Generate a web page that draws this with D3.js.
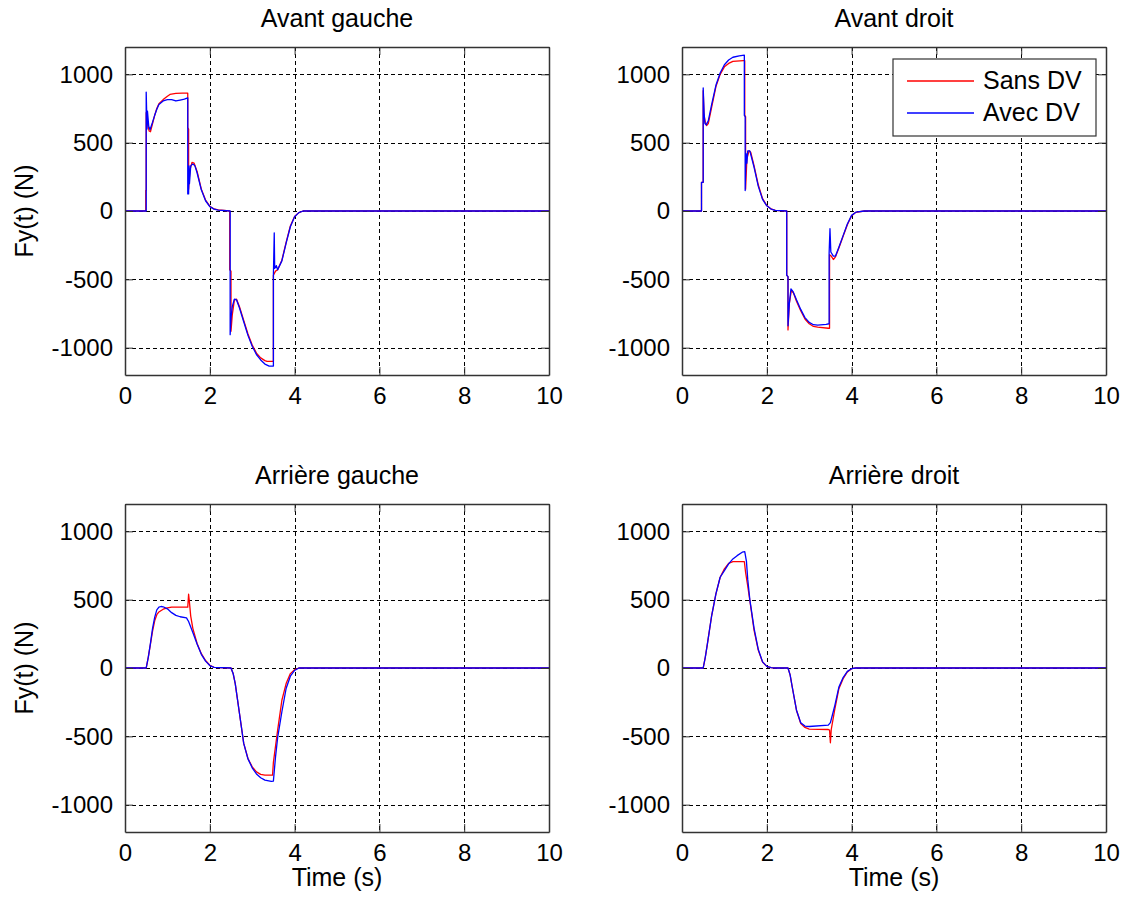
<!DOCTYPE html>
<html>
<head>
<meta charset="utf-8">
<script src="https://cdn.jsdelivr.net/npm/d3@7"></script>
<style>
  html, body { margin: 0; padding: 0; background: #fff; }
  svg { display: block; }
  text { font-family: Arial, "Liberation Sans", sans-serif; fill: #000; }
</style>
</head>
<body>
<svg id="chart" width="1126" height="903"></svg>
<script>
// ---------- Data ----------
const xTicks = [0, 2, 4, 6, 8, 10];
const yTicks = [-1000, -500, 0, 500, 1000];
const seriesNames = ["Sans DV", "Avec DV"];
const panelTitles = ["Avant gauche", "Avant droit", "Arrière gauche", "Arrière droit"];

// Avant gauche
const avgSans = [[0,0],[0.49,0],[0.49,150],[0.5,150],[0.5,720],[0.53,640],[0.57,585],[0.6,580],[0.65,640],[0.7,700],[0.75,750],[0.8,785],[0.9,815],[1.0,840],[1.06,853],[1.2,860],[1.35,862],[1.48,862],[1.48,610],[1.5,600],[1.5,160],[1.53,300],[1.58,355],[1.63,350],[1.7,290],[1.8,160],[1.9,80],[2.0,35],[2.1,15],[2.2,8],[2.47,0],[2.47,-430],[2.5,-440],[2.5,-880],[2.53,-760],[2.58,-650],[2.63,-645],[2.7,-700],[2.8,-800],[2.9,-900],[3.0,-980],[3.1,-1040],[3.2,-1075],[3.3,-1095],[3.35,-1100],[3.5,-1100],[3.5,-470],[3.55,-440],[3.6,-430],[3.7,-360],[3.8,-230],[3.9,-110],[4.0,-40],[4.1,-12],[4.2,0],[10,0]];
const avgAvec = [[0,0],[0.5,0],[0.5,870],[0.52,600],[0.53,730],[0.56,620],[0.59,595],[0.65,650],[0.7,700],[0.75,745],[0.8,780],[0.9,805],[1.0,815],[1.1,815],[1.2,805],[1.3,812],[1.4,818],[1.48,828],[1.48,125],[1.5,125],[1.51,330],[1.52,200],[1.55,330],[1.6,345],[1.65,330],[1.7,280],[1.8,155],[1.9,75],[2.0,32],[2.1,14],[2.2,6],[2.48,0],[2.48,-905],[2.5,-780],[2.53,-700],[2.58,-645],[2.63,-650],[2.7,-710],[2.8,-810],[2.9,-910],[3.0,-990],[3.1,-1050],[3.2,-1090],[3.3,-1120],[3.4,-1135],[3.5,-1135],[3.5,-470],[3.52,-160],[3.53,-420],[3.57,-400],[3.6,-430],[3.7,-365],[3.8,-235],[3.9,-115],[4.0,-42],[4.1,-12],[4.2,0],[10,0]];

// Avant droit
const avdSans = [[0,0],[0.46,0],[0.46,210],[0.5,210],[0.5,880],[0.52,700],[0.55,650],[0.58,625],[0.62,640],[0.7,760],[0.8,910],[0.9,1000],[1.0,1055],[1.1,1080],[1.2,1095],[1.45,1100],[1.48,1100],[1.48,700],[1.5,690],[1.5,160],[1.53,380],[1.58,440],[1.62,430],[1.7,330],[1.8,190],[1.9,90],[2.0,40],[2.1,15],[2.2,5],[2.47,0],[2.47,-470],[2.5,-480],[2.5,-870],[2.53,-680],[2.58,-580],[2.63,-600],[2.7,-660],[2.8,-730],[2.9,-790],[3.0,-825],[3.1,-845],[3.2,-850],[3.45,-858],[3.48,-858],[3.48,-320],[3.52,-330],[3.57,-355],[3.62,-335],[3.7,-270],[3.8,-185],[3.9,-100],[4.0,-35],[4.1,-10],[4.3,0],[10,0]];
const avdAvec = [[0,0],[0.46,0],[0.46,210],[0.5,210],[0.5,900],[0.52,720],[0.54,640],[0.57,630],[0.62,660],[0.7,780],[0.8,920],[0.9,1010],[1.0,1070],[1.1,1105],[1.2,1125],[1.35,1135],[1.47,1140],[1.47,700],[1.49,690],[1.49,150],[1.51,420],[1.53,350],[1.55,440],[1.6,440],[1.7,320],[1.8,180],[1.9,85],[2.0,38],[2.1,14],[2.2,5],[2.47,0],[2.47,-470],[2.5,-480],[2.5,-840],[2.53,-680],[2.57,-570],[2.62,-590],[2.7,-650],[2.8,-720],[2.9,-780],[3.0,-815],[3.1,-832],[3.2,-835],[3.4,-830],[3.47,-825],[3.47,-310],[3.49,-130],[3.51,-300],[3.57,-330],[3.62,-330],[3.7,-265],[3.8,-180],[3.9,-95],[4.0,-32],[4.1,-9],[4.3,0],[10,0]];

// Arrière gauche
const argSans = [[0,0],[0.5,0],[0.55,80],[0.6,175],[0.65,270],[0.7,345],[0.75,390],[0.8,410],[0.9,430],[1.0,440],[1.1,445],[1.48,445],[1.5,540],[1.52,480],[1.55,380],[1.6,290],[1.7,180],[1.8,105],[1.9,55],[2.0,20],[2.1,5],[2.5,0],[2.55,-40],[2.6,-114],[2.7,-333],[2.8,-552],[2.9,-662],[3.0,-723],[3.1,-760],[3.2,-778],[3.3,-784],[3.48,-784],[3.5,-690],[3.6,-455],[3.7,-236],[3.8,-114],[3.9,-41],[4.0,-12],[4.1,0],[10,0]];
const argAvec = [[0,0],[0.5,0],[0.55,80],[0.6,180],[0.65,290],[0.7,370],[0.75,425],[0.8,445],[0.85,450],[0.9,448],[1.0,433],[1.1,405],[1.2,385],[1.3,375],[1.45,367],[1.5,340],[1.55,300],[1.6,260],[1.7,175],[1.8,100],[1.9,50],[2.0,18],[2.1,5],[2.5,0],[2.55,-40],[2.6,-114],[2.7,-333],[2.8,-552],[2.9,-665],[3.0,-730],[3.1,-775],[3.2,-803],[3.3,-820],[3.45,-830],[3.5,-827],[3.55,-650],[3.6,-510],[3.7,-320],[3.8,-150],[3.9,-60],[4.0,-18],[4.1,0],[10,0]];

// Arrière droit
const ardSans = [[0,0],[0.5,0],[0.55,80],[0.6,178],[0.7,384],[0.8,543],[0.9,664],[1.0,725],[1.1,766],[1.2,779],[1.47,779],[1.5,700],[1.55,600],[1.6,494],[1.7,275],[1.8,129],[1.9,44],[2.0,12],[2.1,3],[2.2,0],[2.5,0],[2.55,-50],[2.6,-139],[2.7,-309],[2.8,-406],[2.9,-435],[3.0,-447],[3.45,-450],[3.48,-455],[3.5,-547],[3.52,-450],[3.6,-309],[3.7,-151],[3.8,-78],[3.9,-29],[4.0,-5],[4.1,0],[10,0]];
const ardAvec = [[0,0],[0.5,0],[0.55,80],[0.6,178],[0.7,384],[0.8,543],[0.9,664],[1.0,713],[1.1,762],[1.2,798],[1.3,822],[1.42,847],[1.48,852],[1.52,780],[1.55,650],[1.6,500],[1.7,290],[1.8,135],[1.9,45],[2.0,12],[2.1,3],[2.2,0],[2.5,0],[2.55,-50],[2.6,-139],[2.7,-309],[2.8,-400],[2.9,-425],[3.0,-428],[3.45,-418],[3.5,-400],[3.55,-340],[3.6,-280],[3.7,-140],[3.8,-70],[3.9,-25],[4.0,-5],[4.1,0],[10,0]];

// ---------- Layout ----------
const colors = ["#ff0000", "#0000ff"];
const panels = [
  { title: panelTitles[0], x: 125, y: 47,  data: [avgSans, avgAvec], ylab: true,  xlab: false, legend: false },
  { title: panelTitles[1], x: 682, y: 47,  data: [avdSans, avdAvec], ylab: false, xlab: false, legend: true },
  { title: panelTitles[2], x: 125, y: 504, data: [argSans, argAvec], ylab: true,  xlab: true,  legend: false },
  { title: panelTitles[3], x: 682, y: 504, data: [ardSans, ardAvec], ylab: false, xlab: true,  legend: false }
];
const W = 424, H = 328;
const FS = 24;   // tick labels
const LFS = 25;  // titles / axis labels / legend

const svg = d3.select("#chart");
svg.append("rect").attr("width", 1126).attr("height", 903).attr("fill", "#fff");

panels.forEach(p => {
  const g = svg.append("g").attr("transform", `translate(${p.x},${p.y})`);
  const x = d3.scaleLinear().domain([0, 10]).range([0, W]);
  const y = d3.scaleLinear().domain([-1200, 1200]).range([H, 0]);

  // grid
  const grid = g.append("g").attr("class", "grid");
  grid.selectAll("line.gx").data(xTicks.filter(t => t > 0 && t < 10)).enter().append("line")
    .attr("x1", d => Math.round(x(d)) + 0.5).attr("x2", d => Math.round(x(d)) + 0.5).attr("y1", 0).attr("y2", H)
    .attr("stroke", "#000").attr("stroke-width", 1).attr("stroke-dasharray", "4,3").attr("shape-rendering", "crispEdges");
  grid.selectAll("line.gy").data(yTicks).enter().append("line")
    .attr("y1", d => Math.round(y(d)) + 0.5).attr("y2", d => Math.round(y(d)) + 0.5).attr("x1", 0).attr("x2", W)
    .attr("stroke", "#000").attr("stroke-width", 1).attr("stroke-dasharray", "4,3").attr("shape-rendering", "crispEdges");

  // lines
  const line = d3.line().x(d => x(d[0])).y(d => y(d[1]));
  const clip = "clip" + p.x + "_" + p.y;
  g.append("clipPath").attr("id", clip).append("rect").attr("width", W).attr("height", H);
  p.data.forEach((s, i) => {
    g.append("path").datum(s).attr("d", line).attr("fill", "none")
      .attr("stroke", colors[i]).attr("stroke-width", 1.3).attr("stroke-linejoin", "round")
      .attr("clip-path", `url(#${clip})`);
  });

  // axes (ticks inward)
  const fmt = d => String(d);
  const axB = d3.axisBottom(x).tickValues(xTicks).tickFormat(fmt).tickSizeInner(-8).tickSizeOuter(0).tickPadding(12);
  const axL = d3.axisLeft(y).tickValues(yTicks).tickFormat(fmt).tickSizeInner(-8).tickSizeOuter(0).tickPadding(12);
  const axT = d3.axisTop(x).tickValues(xTicks).tickSizeInner(-8).tickSizeOuter(0).tickFormat("");
  const axR = d3.axisRight(y).tickValues(yTicks).tickSizeInner(-8).tickSizeOuter(0).tickFormat("");
  const styleAx = sel => {
    sel.selectAll("path").attr("stroke", "#333").attr("stroke-width", 1.5);
    sel.selectAll("line").attr("stroke", "#333").attr("stroke-width", 1);
    sel.selectAll("text").attr("font-size", FS).attr("font-family", "Arial, 'Liberation Sans', sans-serif").attr("fill", "#000");
  };
  g.append("g").attr("transform", `translate(0,${H})`).call(axB).call(styleAx);
  g.append("g").call(axL).call(styleAx);
  g.append("g").call(axT).call(styleAx);
  g.append("g").attr("transform", `translate(${W},0)`).call(axR).call(styleAx);

  // title
  g.append("text").attr("x", W / 2).attr("y", -20).attr("text-anchor", "middle")
    .attr("font-size", LFS).text(p.title);

  if (p.ylab) {
    g.append("text").attr("transform", `translate(${33 - p.x},${H / 2}) rotate(-90)`)
      .attr("text-anchor", "middle").attr("font-size", LFS).text("Fy(t) (N)");
  }
  if (p.xlab) {
    g.append("text").attr("x", W / 2).attr("y", H + 54).attr("text-anchor", "middle")
      .attr("font-size", LFS).text("Time (s)");
  }
  if (p.legend) {
    const lg = g.append("g").attr("transform", `translate(${893 - p.x},${59 - p.y})`);
    lg.append("rect").attr("width", 203).attr("height", 77).attr("fill", "#fff")
      .attr("stroke", "#333").attr("stroke-width", 1.2);
    seriesNames.forEach((n, i) => {
      const yy = 22 + i * 32;
      lg.append("line").attr("x1", 14).attr("x2", 81).attr("y1", yy).attr("y2", yy)
        .attr("stroke", colors[i]).attr("stroke-width", 1.3);
      lg.append("text").attr("x", 90).attr("y", yy + 8).attr("font-size", LFS).text(n);
    });
  }
});
</script>
</body>
</html>
